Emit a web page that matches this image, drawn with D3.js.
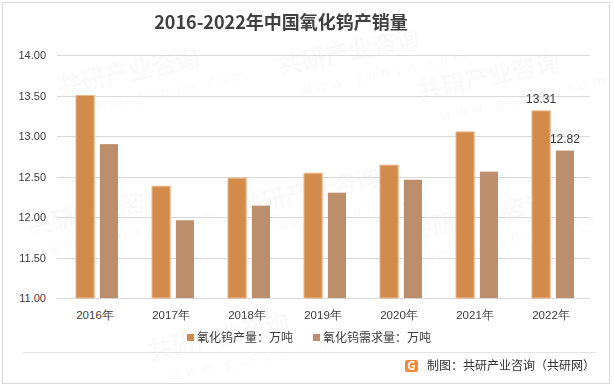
<!DOCTYPE html>
<html>
<head>
<meta charset="utf-8">
<script src="https://cdn.jsdelivr.net/npm/d3@7"></script>
<style>
  body { margin: 0; background: #fff; }
  svg { display: block; font-family: "Noto Sans CJK SC", "Liberation Sans", sans-serif; }
</style>
</head>
<body>
<div id="chart"></div>
<script>
// data
var years = ['2016年', '2017年', '2018年', '2019年', '2020年', '2021年', '2022年'];
var production = [13.50, 12.38, 12.48, 12.54, 12.64, 13.05, 13.31];
var demand = [12.90, 11.96, 12.14, 12.30, 12.46, 12.56, 12.82];
var seriesNames = ['氧化钨产量：万吨', '氧化钨需求量：万吨'];
var yTicks = [11, 11.5, 12, 12.5, 13, 13.5, 14];

var width = 614, height = 387;
var colors = ['#D38B4C', '#BC8E6C'];
var textColor = '#3a3a3a';

var svg = d3.select('#chart').append('svg')
  .attr('width', width)
  .attr('height', height);

// outer frame
svg.append('rect')
  .attr('x', 2.5).attr('y', 2.5)
  .attr('width', 607).attr('height', 381)
  .attr('fill', '#fff')
  .attr('stroke', '#d9d9d9');

// faint watermarks
var wm = svg.append('g').attr('fill', '#000').attr('opacity', 0.025);
[[60, 95], [280, 75], [420, 100], [30, 235], [240, 215], [410, 240], [150, 360]].forEach(function (p) {
  var g = wm.append('g').attr('transform', 'translate(' + p[0] + ',' + p[1] + ') rotate(-12)');
  g.append('text').attr('font-size', 24).attr('font-weight', 'bold').text('共研产业咨询');
  g.append('text').attr('y', 24).attr('x', 16).attr('font-size', 14).attr('letter-spacing', 5).text('www.gonyn.com');
});

var x = d3.scaleBand().domain(years).range([57, 589]);
var y = d3.scaleLinear().domain([11, 14]).range([298, 55]);
var sub = d3.scaleBand().domain([0, 1]).range([19, 61]).paddingInner(0.24);

// title
svg.append('text')
  .attr('x', 281).attr('y', 29)
  .attr('text-anchor', 'middle')
  .attr('font-size', 18)
  .attr('font-weight', 'bold')
  .attr('fill', '#404040')
  .text('2016-2022年中国氧化钨产销量');

// grid
svg.append('g').selectAll('line')
  .data(yTicks)
  .join('line')
  .attr('x1', 57).attr('x2', 590)
  .attr('y1', function (d) { return Math.round(y(d)) + 0.5; })
  .attr('y2', function (d) { return Math.round(y(d)) + 0.5; })
  .attr('stroke', '#d9d9d9');

// y axis labels
var yAxis = svg.append('g')
  .attr('transform', 'translate(46,0)')
  .call(d3.axisLeft(y).tickValues(yTicks).tickSize(0).tickPadding(0).tickFormat(d3.format('.2f')));
yAxis.select('.domain').remove();
yAxis.selectAll('text')
  .attr('font-size', 11)
  .attr('font-family', '"Liberation Sans", sans-serif')
  .attr('fill', textColor);

// x axis labels
var xAxis = svg.append('g')
  .attr('transform', 'translate(0,311)')
  .call(d3.axisBottom(x).tickSize(0).tickPadding(0));
xAxis.select('.domain').remove();
xAxis.selectAll('text')
  .attr('font-size', 11.5)
  .attr('fill', textColor);

// bars
var series = [production, demand];
series.forEach(function (vals, i) {
  svg.append('g').selectAll('rect')
    .data(vals)
    .join('rect')
    .attr('x', function (d, j) { return x(years[j]) + sub(i); })
    .attr('width', sub.bandwidth())
    .attr('y', function (d) { return y(d); })
    .attr('height', function (d) { return y(11) - y(d); })
    .attr('fill', colors[i])
    .attr('stroke', i === 0 ? '#EDB488' : 'none')
    .attr('stroke-width', 1);
});

// data labels on the last year
var last = years.length - 1;
series.forEach(function (vals, i) {
  svg.append('text')
    .attr('x', x(years[last]) + sub(i) + sub.bandwidth() / 2)
    .attr('y', y(vals[last]) - 8)
    .attr('text-anchor', 'middle')
    .attr('font-size', 12)
    .attr('font-family', '"Liberation Sans", sans-serif')
    .attr('fill', textColor)
    .text(d3.format('.2f')(vals[last]));
});

// legend
var legendX = [187, 313];
seriesNames.forEach(function (name, i) {
  var g = svg.append('g').attr('transform', 'translate(' + legendX[i] + ',338)');
  g.append('rect').attr('x', 0).attr('y', -4).attr('width', 7).attr('height', 7).attr('fill', colors[i]);
  g.append('text')
    .attr('x', 10).attr('y', 0).attr('dy', '0.35em')
    .attr('font-size', 12)
    .attr('fill', textColor)
    .text(name);
});

// footer
svg.append('line')
  .attr('x1', 23).attr('x2', 596)
  .attr('y1', 352.5).attr('y2', 352.5)
  .attr('stroke', '#e3e3e3');

var logo = svg.append('g').attr('transform', 'translate(405,360)');
logo.append('rect').attr('width', 13).attr('height', 12).attr('rx', 2).attr('fill', '#F08A3A');
logo.append('text').attr('x', 6.5).attr('y', 10).attr('text-anchor', 'middle')
  .attr('font-size', 11).attr('font-weight', 'bold').attr('fill', '#fff').text('G');

svg.append('text')
  .attr('x', 427).attr('y', 370)
  .attr('font-size', 12)
  .attr('fill', '#333')
  .text('制图：共研产业咨询（共研网）');
</script>
</body>
</html>
